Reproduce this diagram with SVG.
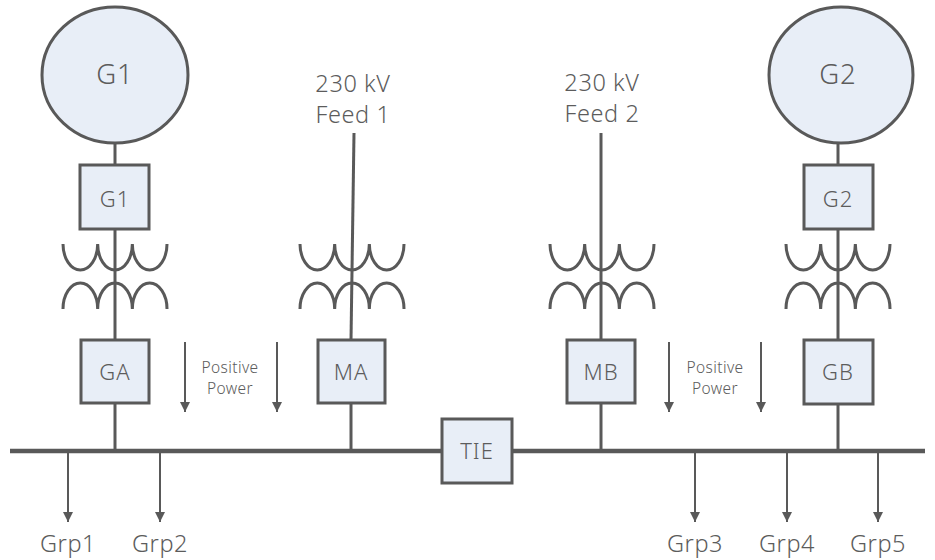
<svg xmlns="http://www.w3.org/2000/svg" width="935" height="560" viewBox="0 0 935 560">
<defs>
<style>
.n{fill:#e8eef7;stroke:#595959;stroke-width:3}
.w{fill:none;stroke:#595959;stroke-width:3}
.bus{fill:none;stroke:#595959;stroke-width:4.5}
.a{fill:none;stroke:#595959;stroke-width:2}
.c{fill:none;stroke:#595959;stroke-width:3}
text{font-family:"Noto Sans","Open Sans",sans-serif;font-weight:300;fill:#5c5c5c;text-anchor:middle}
.big{font-size:27.5px;letter-spacing:1px}
.box{font-size:22px;letter-spacing:1px}
.lbl{font-size:23.5px;letter-spacing:0.6px}
.sm{font-size:15.5px;letter-spacing:0.4px}
</style>
<marker id="ah" viewBox="0 0 10 10" refX="10" refY="5" markerWidth="10" markerHeight="10" markerUnits="userSpaceOnUse" orient="auto">
<path d="M0,0 L10,5 L0,10 z" fill="#595959"/>
</marker>
<path id="xf" d="M-52,244 a17.33,26 0 0 0 34.67,0 a17.33,26 0 0 0 34.67,0 a17.33,26 0 0 0 34.67,0 M-52,309 a17.33,26 0 0 1 34.67,0 a17.33,26 0 0 1 34.67,0 a17.33,26 0 0 1 34.67,0"/>
</defs>
<g id="connectors">
<line class="bus" x1="10" y1="451" x2="925" y2="451"/>
<line class="w" x1="115" y1="143" x2="115" y2="165"/>
<line class="w" x1="115" y1="229" x2="115" y2="340"/>
<line class="w" x1="115" y1="403" x2="115" y2="451"/>
<line class="w" x1="354" y1="133" x2="351" y2="340"/>
<line class="w" x1="351" y1="403" x2="351" y2="451"/>
<line class="w" x1="601" y1="133" x2="601" y2="340"/>
<line class="w" x1="601" y1="403" x2="601" y2="451"/>
<line class="w" x1="838" y1="143" x2="838" y2="165"/>
<line class="w" x1="838" y1="229" x2="838" y2="340"/>
<line class="w" x1="838" y1="403" x2="838" y2="451"/>
<line class="a" x1="185" y1="342" x2="185" y2="412" marker-end="url(#ah)"/>
<line class="a" x1="277" y1="342" x2="277" y2="412" marker-end="url(#ah)"/>
<line class="a" x1="669" y1="342" x2="669" y2="412" marker-end="url(#ah)"/>
<line class="a" x1="761" y1="342" x2="761" y2="412" marker-end="url(#ah)"/>
<line class="a" x1="68" y1="451" x2="68" y2="522" marker-end="url(#ah)"/>
<line class="a" x1="160" y1="451" x2="160" y2="522" marker-end="url(#ah)"/>
<line class="a" x1="695" y1="451" x2="695" y2="522" marker-end="url(#ah)"/>
<line class="a" x1="787" y1="451" x2="787" y2="522" marker-end="url(#ah)"/>
<line class="a" x1="878" y1="451" x2="878" y2="522" marker-end="url(#ah)"/>
</g>
<g id="xfmr-g1"><use href="#xf" class="c" x="115"/></g>
<g id="xfmr-ma"><use href="#xf" class="c" x="352"/></g>
<g id="xfmr-mb"><use href="#xf" class="c" x="602"/></g>
<g id="xfmr-g2"><use href="#xf" class="c" x="838"/></g>
<g id="gen-g1"><ellipse class="n" cx="115" cy="75" rx="73" ry="68"/><text class="big" x="115" y="84">G1</text></g>
<g id="gen-g2"><ellipse class="n" cx="841" cy="75" rx="72" ry="68"/><text class="big" x="838" y="84">G2</text></g>
<g id="box-g1"><rect class="n" x="80" y="165" width="69" height="64"/><text class="box" x="115" y="207">G1</text></g>
<g id="box-g2"><rect class="n" x="804" y="165" width="69" height="64"/><text class="box" x="838" y="207">G2</text></g>
<g id="box-ga"><rect class="n" x="81" y="340" width="68" height="63"/><text class="box" x="115" y="380">GA</text></g>
<g id="box-ma"><rect class="n" x="318" y="340" width="67" height="63"/><text class="box" x="351" y="380">MA</text></g>
<g id="box-mb"><rect class="n" x="567" y="340" width="68" height="63"/><text class="box" x="601" y="380">MB</text></g>
<g id="box-gb"><rect class="n" x="804" y="340" width="69" height="64"/><text class="box" x="838" y="380">GB</text></g>
<g id="box-tie"><rect class="n" x="442" y="419" width="70" height="64"/><text class="box" x="477" y="459">TIE</text></g>
<g id="feed1"><text class="lbl" x="353" y="92">230 kV</text><text class="lbl" x="353" y="123">Feed 1</text></g>
<g id="feed2"><text class="lbl" x="602" y="91">230 kV</text><text class="lbl" x="602" y="122">Feed 2</text></g>
<g id="pp1"><text class="sm" x="230" y="373">Positive</text><text class="sm" x="230" y="394">Power</text></g>
<g id="pp2"><text class="sm" x="715" y="373">Positive</text><text class="sm" x="715" y="394">Power</text></g>
<g id="grp1"><text class="lbl" x="68" y="552">Grp1</text></g>
<g id="grp2"><text class="lbl" x="160" y="552">Grp2</text></g>
<g id="grp3"><text class="lbl" x="695" y="552">Grp3</text></g>
<g id="grp4"><text class="lbl" x="787" y="552">Grp4</text></g>
<g id="grp5"><text class="lbl" x="878" y="552">Grp5</text></g>
</svg>
